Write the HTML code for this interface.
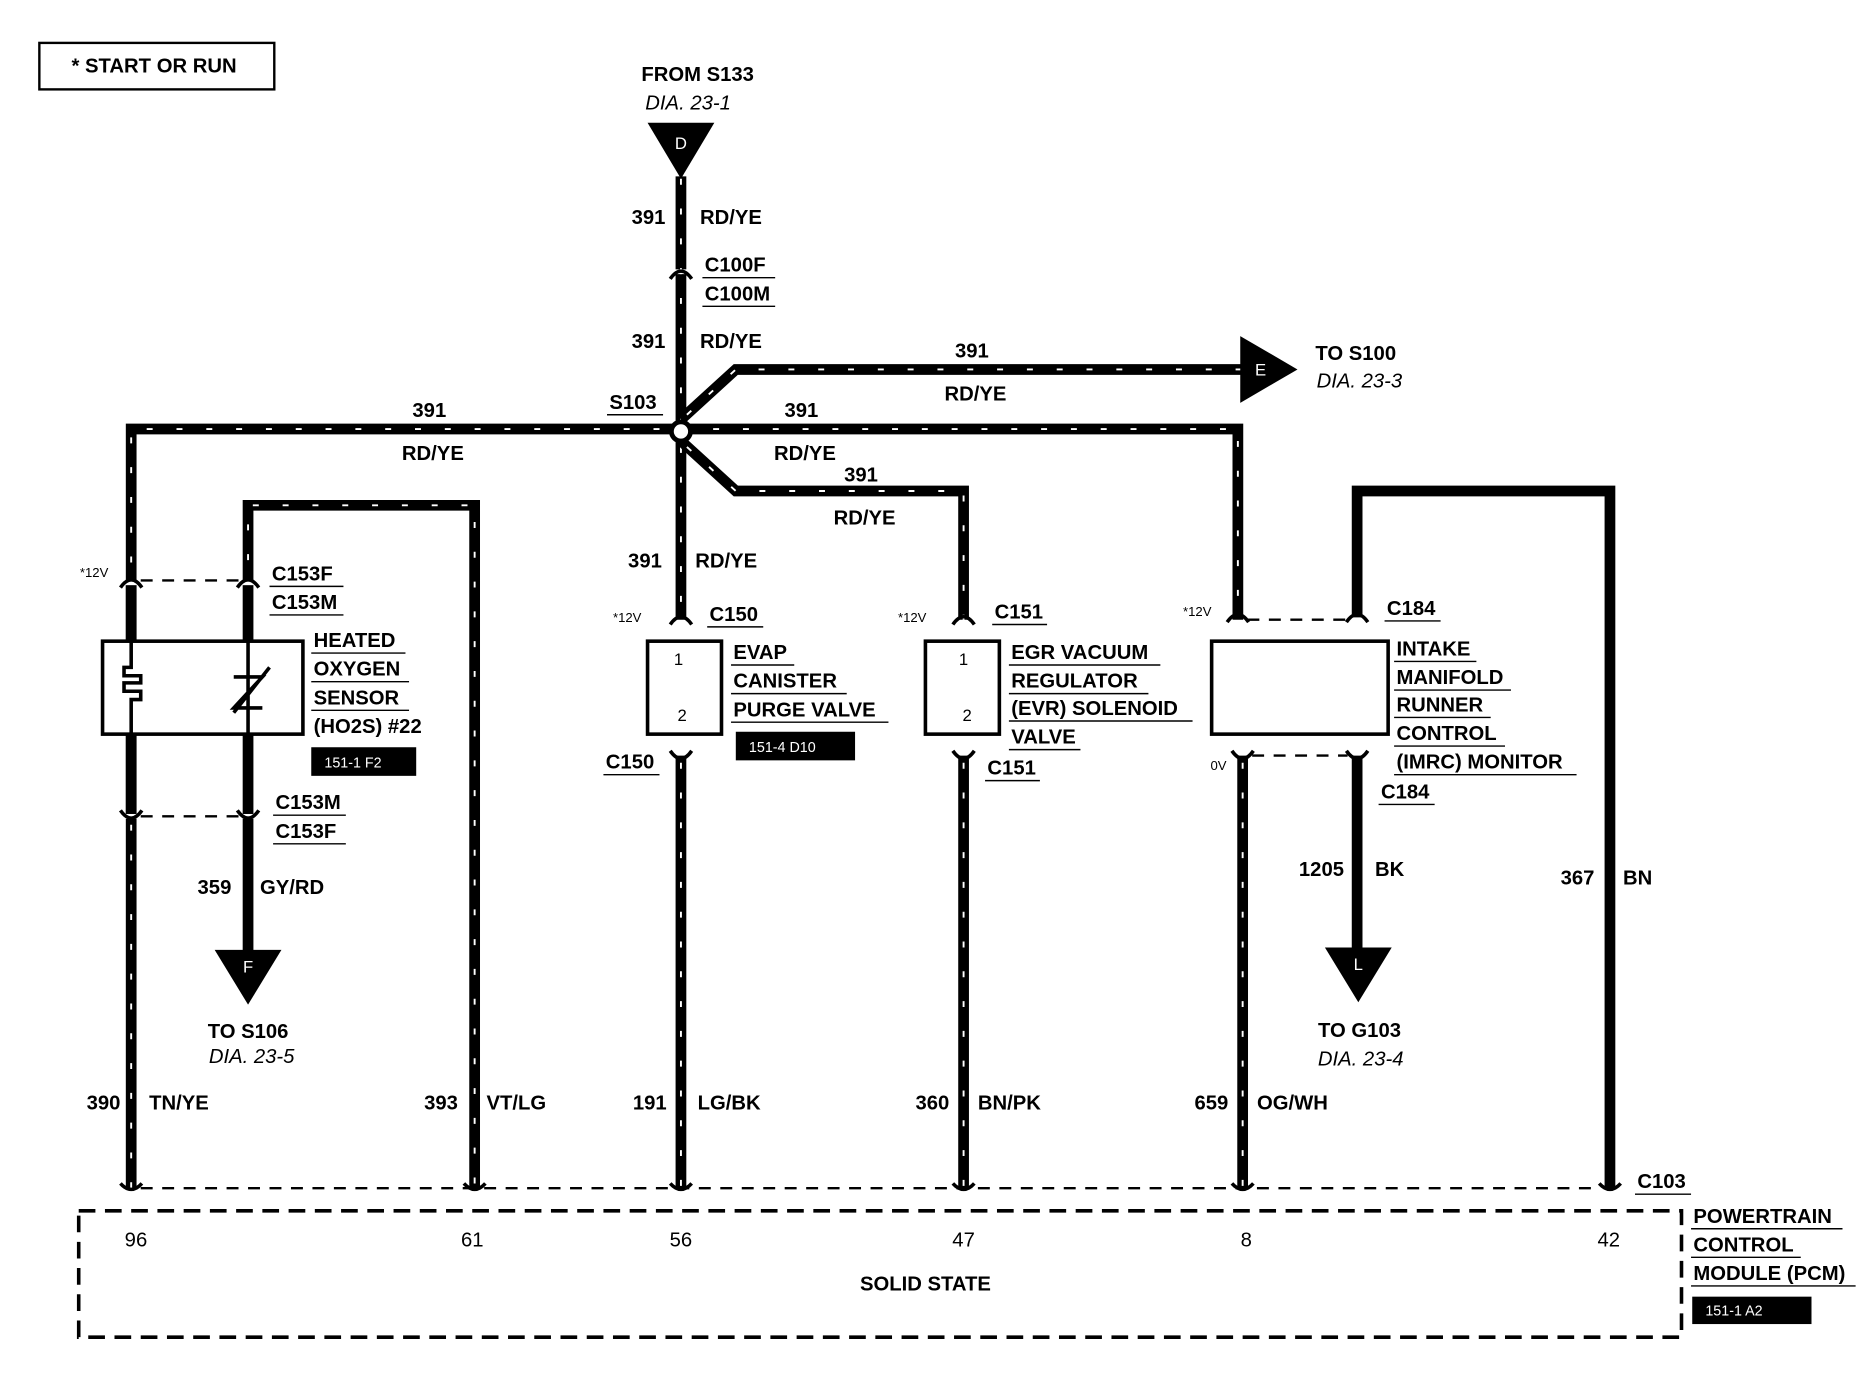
<!DOCTYPE html>
<html><head><meta charset="utf-8"><style>
html,body{margin:0;padding:0;background:#fff;}
svg{display:block}
text{font-family:"Liberation Sans",Arial,sans-serif;font-weight:bold;font-size:17px;fill:#000}
.i{font-style:italic;font-weight:normal}
.s{font-size:12px;font-weight:normal}
.w{fill:#fff;font-weight:normal;font-size:12px}
.wire{stroke:#000;stroke-width:9;fill:none}
.hat{stroke:#fff;stroke-width:1.6;fill:none;stroke-dasharray:5 20}
.dash{stroke:#000;stroke-width:2;fill:none;stroke-dasharray:10 8}
.ul{stroke:#000;stroke-width:1.2}
</style></head><body>
<svg width="1858" height="1392" viewBox="0 0 1558 1168" preserveAspectRatio="none" xmlns="http://www.w3.org/2000/svg">
<rect x="33" y="36" width="197" height="39" fill="none" stroke="#000" stroke-width="2"/>
<text x="60" y="61" font-size="16">*  START OR RUN</text>

<text x="585" y="68" text-anchor="middle">FROM S133</text>
<text x="577" y="92" text-anchor="middle" class="i">DIA. 23-1</text>
<polygon points="543,103 599,103 571,150" fill="#000"/>
<text x="571" y="125" text-anchor="middle" class="w" style="font-size:14px">D</text>

<g>
<path class="wire" d="M571,148 V520"/>
<path class="hat" d="M571,150 V520"/>
<path class="wire" d="M110,997 V360 H1038 V520"/>
<path class="hat" d="M110,997 V360 H1038 V520"/>
<path class="wire" d="M571,352 L617,310 H1042"/>
<path class="hat" d="M576,348 L617,310 H1042"/>
<path class="wire" d="M571,370 L617,412 H808 V520"/>
<path class="hat" d="M576,375 L617,412 H808 V520"/>
<path class="wire" d="M208,487 V424 H398 V997"/>
<path class="hat" d="M208,470 V424 H398 V997"/>
<path class="wire" d="M571,634 V997"/>
<path class="hat" d="M571,640 V997"/>
<path class="wire" d="M808,634 V997"/>
<path class="hat" d="M808,640 V997"/>
<path class="wire" d="M1042,634 V997"/>
<path class="hat" d="M1042,640 V997"/>
<path class="wire" d="M1138,518 V412 H1350 V997"/>
<path class="wire" d="M1138,634 V800"/>
<path class="wire" d="M208,685 V800"/>
<path class="wire" d="M110,487 V685"/>
<path class="wire" d="M208,487 V685"/>
</g>
<g fill="#fff">
<rect x="100" y="487" width="20" height="4"/><rect x="198" y="487" width="20" height="4"/>
<rect x="100" y="683" width="20" height="4"/><rect x="198" y="683" width="20" height="4"/>
<rect x="561" y="226" width="20" height="4"/>
<rect x="100" y="538" width="160" height="78"/>
</g>
<g fill="none" stroke="#000" stroke-width="3">
<path d="M101,493 Q110,480 119,493"/><path d="M199,493 Q208,480 217,493"/>
<path d="M101,680 Q110,693 119,680"/><path d="M199,680 Q208,693 217,680"/>
<path d="M562,234 Q571,221 580,234"/>
<path d="M562,524 Q571,511 580,524"/><path d="M799,524 Q808,511 817,524"/>
<path d="M1029,522 Q1038,509 1047,522"/><path d="M1129,522 Q1138,509 1147,522"/>
<path d="M562,630 Q571,643 580,630"/><path d="M799,630 Q808,643 817,630"/>
<path d="M1033,630 Q1042,643 1051,630"/><path d="M1129,630 Q1138,643 1147,630"/>
<path d="M101,993 Q110,1003 119,993"/><path d="M389,993 Q398,1003 407,993"/>
<path d="M562,993 Q571,1003 580,993"/><path d="M799,993 Q808,1003 817,993"/>
<path d="M1033,993 Q1042,1003 1051,993"/><path d="M1341,993 Q1350,1003 1359,993"/>
</g>
<path class="dash" d="M118,487 H200 M118,685 H200 M1046,520 H1130 M1050,634 H1130 M118,997 H1342"/>

<circle cx="571" cy="362" r="8" fill="#fff" stroke="#000" stroke-width="4"/>

<polygon points="1040,282 1040,338 1088,310" fill="#000"/>
<text x="1057" y="315" text-anchor="middle" class="w" style="font-size:14px">E</text>
<polygon points="180,797 236,797 208,843" fill="#000"/>
<text x="208" y="816" text-anchor="middle" class="w" style="font-size:14px">F</text>
<polygon points="1111,795 1167,795 1139,841" fill="#000"/>
<text x="1139" y="814" text-anchor="middle" class="w" style="font-size:14px">L</text>

<rect x="86" y="538" width="168" height="78" fill="none" stroke="#000" stroke-width="3"/>
<path d="M110,538 V560 H104 V567 H118 V573 H104 V580 H118 V587 H110 V616" fill="none" stroke="#000" stroke-width="3"/>
<path d="M208,538 V616 M196,568 H220 L196,594 H220 M196,598 L226,560" fill="none" stroke="#000" stroke-width="3"/>

<rect x="543" y="538" width="62" height="78" fill="none" stroke="#000" stroke-width="3"/>
<text x="569" y="558" class="s" text-anchor="middle" style="font-size:14px">1</text>
<text x="572" y="605" class="s" text-anchor="middle" style="font-size:14px">2</text>
<rect x="776" y="538" width="62" height="78" fill="none" stroke="#000" stroke-width="3"/>
<text x="808" y="558" class="s" text-anchor="middle" style="font-size:14px">1</text>
<text x="811" y="605" class="s" text-anchor="middle" style="font-size:14px">2</text>
<rect x="1016" y="538" width="148" height="78" fill="none" stroke="#000" stroke-width="3"/>

<rect x="66" y="1016" width="1344" height="106" fill="none" stroke="#000" stroke-width="3" stroke-dasharray="14 8"/>

<g>
<text x="558" y="188" text-anchor="end">391</text><text x="587" y="188">RD/YE</text>
<text x="591" y="228">C100F</text><line class="ul" x1="589" y1="233" x2="650" y2="233"/>
<text x="591" y="252">C100M</text><line class="ul" x1="589" y1="257" x2="650" y2="257"/>
<text x="558" y="292" text-anchor="end">391</text><text x="587" y="292">RD/YE</text>
<text x="511" y="343">S103</text><line class="ul" x1="509" y1="348" x2="556" y2="348"/>
<text x="360" y="350" text-anchor="middle">391</text><text x="363" y="386" text-anchor="middle">RD/YE</text>
<text x="672" y="350" text-anchor="middle">391</text><text x="675" y="386" text-anchor="middle">RD/YE</text>
<text x="815" y="300" text-anchor="middle">391</text><text x="818" y="336" text-anchor="middle">RD/YE</text>
<text x="722" y="404" text-anchor="middle">391</text><text x="725" y="440" text-anchor="middle">RD/YE</text>
<text x="1103" y="302">TO S100</text><text x="1104" y="325" class="i">DIA. 23-3</text>
<text x="555" y="476" text-anchor="end">391</text><text x="583" y="476">RD/YE</text>

<text x="67" y="484" class="s" style="font-size:11px">*12V</text>
<text x="228" y="487">C153F</text><line class="ul" x1="226" y1="492" x2="288" y2="492"/>
<text x="228" y="511">C153M</text><line class="ul" x1="226" y1="516" x2="288" y2="516"/>
<text x="263" y="543">HEATED</text><line class="ul" x1="261" y1="548" x2="340" y2="548"/>
<text x="263" y="567">OXYGEN</text><line class="ul" x1="261" y1="572" x2="343" y2="572"/>
<text x="263" y="591">SENSOR</text><line class="ul" x1="261" y1="596" x2="343" y2="596"/>
<text x="263" y="615">(HO2S) #22</text>
<rect x="261" y="627" width="88" height="24" fill="#000"/><text x="272" y="644" class="w">151-1 F2</text>
<text x="231" y="679">C153M</text><line class="ul" x1="229" y1="684" x2="290" y2="684"/>
<text x="231" y="703">C153F</text><line class="ul" x1="229" y1="708" x2="290" y2="708"/>
<text x="194" y="750" text-anchor="end">359</text><text x="218" y="750">GY/RD</text>
<text x="208" y="871" text-anchor="middle">TO S106</text><text x="211" y="892" text-anchor="middle" class="i">DIA. 23-5</text>

<text x="514" y="522" class="s" style="font-size:11px">*12V</text>
<text x="595" y="521">C150</text><line class="ul" x1="593" y1="526" x2="640" y2="526"/>
<text x="615" y="553">EVAP</text><line class="ul" x1="613" y1="558" x2="666" y2="558"/>
<text x="615" y="577">CANISTER</text><line class="ul" x1="613" y1="582" x2="710" y2="582"/>
<text x="615" y="601">PURGE VALVE</text><line class="ul" x1="613" y1="606" x2="745" y2="606"/>
<rect x="617" y="614" width="100" height="24" fill="#000"/><text x="628" y="631" class="w">151-4 D10</text>
<text x="508" y="645">C150</text><line class="ul" x1="506" y1="650" x2="553" y2="650"/>

<text x="753" y="522" class="s" style="font-size:11px">*12V</text>
<text x="834" y="519">C151</text><line class="ul" x1="832" y1="524" x2="878" y2="524"/>
<text x="848" y="553">EGR VACUUM</text><line class="ul" x1="846" y1="558" x2="973" y2="558"/>
<text x="848" y="577">REGULATOR</text><line class="ul" x1="846" y1="582" x2="963" y2="582"/>
<text x="848" y="600">(EVR) SOLENOID</text><line class="ul" x1="846" y1="605" x2="1000" y2="605"/>
<text x="848" y="624">VALVE</text><line class="ul" x1="846" y1="629" x2="906" y2="629"/>
<text x="828" y="650">C151</text><line class="ul" x1="826" y1="655" x2="872" y2="655"/>

<text x="992" y="517" class="s" style="font-size:11px">*12V</text>
<text x="1163" y="516">C184</text><line class="ul" x1="1161" y1="521" x2="1208" y2="521"/>
<text x="1171" y="550">INTAKE</text><line class="ul" x1="1169" y1="555" x2="1238" y2="555"/>
<text x="1171" y="574">MANIFOLD</text><line class="ul" x1="1169" y1="579" x2="1267" y2="579"/>
<text x="1171" y="597">RUNNER</text><line class="ul" x1="1169" y1="602" x2="1250" y2="602"/>
<text x="1171" y="621">CONTROL</text><line class="ul" x1="1169" y1="626" x2="1262" y2="626"/>
<text x="1171" y="645">(IMRC) MONITOR</text><line class="ul" x1="1169" y1="650" x2="1322" y2="650"/>
<text x="1015" y="646" class="s" style="font-size:11px">0V</text>
<text x="1158" y="670">C184</text><line class="ul" x1="1156" y1="675" x2="1203" y2="675"/>
<text x="1127" y="735" text-anchor="end">1205</text><text x="1153" y="735">BK</text>
<text x="1140" y="870" text-anchor="middle">TO G103</text><text x="1141" y="894" text-anchor="middle" class="i">DIA. 23-4</text>
<text x="1337" y="742" text-anchor="end">367</text><text x="1361" y="742">BN</text>

<text x="101" y="931" text-anchor="end">390</text><text x="125" y="931">TN/YE</text>
<text x="384" y="931" text-anchor="end">393</text><text x="408" y="931">VT/LG</text>
<text x="559" y="931" text-anchor="end">191</text><text x="585" y="931">LG/BK</text>
<text x="796" y="931" text-anchor="end">360</text><text x="820" y="931">BN/PK</text>
<text x="1030" y="931" text-anchor="end">659</text><text x="1054" y="931">OG/WH</text>
<text x="1373" y="997">C103</text><line class="ul" x1="1371" y1="1002" x2="1418" y2="1002"/>

<text x="114" y="1046" text-anchor="middle" style="font-weight:normal">96</text>
<text x="396" y="1046" text-anchor="middle" style="font-weight:normal">61</text>
<text x="571" y="1046" text-anchor="middle" style="font-weight:normal">56</text>
<text x="808" y="1046" text-anchor="middle" style="font-weight:normal">47</text>
<text x="1045" y="1046" text-anchor="middle" style="font-weight:normal">8</text>
<text x="1349" y="1046" text-anchor="middle" style="font-weight:normal">42</text>
<text x="776" y="1083" text-anchor="middle">SOLID STATE</text>
<text x="1420" y="1026">POWERTRAIN</text><line class="ul" x1="1418" y1="1031" x2="1545" y2="1031"/>
<text x="1420" y="1050">CONTROL</text><line class="ul" x1="1418" y1="1055" x2="1510" y2="1055"/>
<text x="1420" y="1074">MODULE (PCM)</text><line class="ul" x1="1418" y1="1079" x2="1556" y2="1079"/>
<rect x="1419" y="1088" width="100" height="23" fill="#000"/><text x="1430" y="1104" class="w">151-1 A2</text>
</g>
</svg>
</body></html>
